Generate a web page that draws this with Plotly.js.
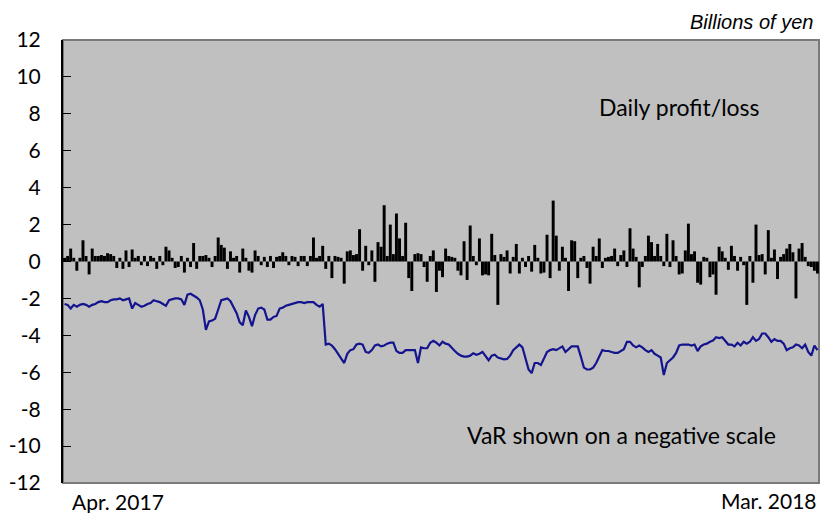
<!DOCTYPE html>
<html>
<head>
<meta charset="utf-8">
<script src="https://cdn.plot.ly/plotly-3.0.1.min.js"></script>
<style>
  html, body { margin: 0; padding: 0; background: #ffffff; }
  #chart { width: 822px; height: 513px; }
</style>
</head>
<body>
<div id="chart"></div>
<script>
// Daily profit/loss (billions of yen), one value per trading day, Apr. 2017 - Mar. 2018
var dailyPL = [
  0.2, 0.3, 0.7, 0.2, -0.5, 0.2, 1.15, 0.3, -0.7, 0.7,
  0.3, 0.3, 0.35, 0.3, 0.45, 0.4, 0.3, -0.35, 0.2, -0.4,
  0.6, -0.3, 0.65, 0.2, 0.3, -0.2, 0.3, -0.25, 0.3, 0.2,
  -0.4, 0.3, -0.2, 0.8, 0.6, 0.2, -0.35, -0.3, 0.3, -0.6,
  0.2, -0.3, 1.0, -0.4, 0.3, 0.3, 0.35, 0.2, -0.3, 0.3,
  1.3, 0.9, 0.75, -0.4, 0.55, 0.2, 0.3, -0.6, 0.7, 0.2,
  -0.5, -0.6, 0.6, 0.3, -0.2, 0.25, -0.3, 0.3, -0.35, 0.25,
  0.3, 0.5, 0.3, -0.2, 0.3, 0.25, -0.25, 0.3, 0.3, -0.25,
  0.3, 1.3, 0.2, 0.3, 0.85, -0.4, 0.3, -0.9, 0.3, 0.25,
  0.2, -1.2, 0.55, 0.6, 0.35, 0.4, 1.75, -0.5, 0.85, -0.2,
  0.6, -1.1, 1.05, 0.8, 3.05, 0.3, 2.0, 0.4, 2.6, 1.25,
  0.3, 2.1, -0.9, -1.6, 0.4, 0.45, 0.4, -0.3, -1.1, 0.3,
  0.6, -1.65, -0.5, -0.85, 0.7, 0.3, 0.25, 0.2, -0.5, -0.75,
  1.1, -1.0, 1.95, 0.3, -0.2, 1.25, -0.75, -0.7, -0.75, 1.5,
  0.35, -2.35, 0.4, 0.25, 0.6, -0.65, 0.25, 0.95, -0.65, 0.2,
  -0.3, 0.3, -0.55, 0.9, 0.2, -0.65, -0.6, 1.45, -0.9, 3.3,
  1.4, -0.5, 0.8, 0.2, -1.6, 1.15, 1.1, -0.9, 0.2, 0.3,
  -0.35, -1.2, 0.8, 0.3, 1.25, -0.35, 0.2, 0.25, 0.3, 0.7,
  -0.25, 0.35, 0.6, -0.3, 1.8, 0.7, 0.25, -1.4, -0.3, 0.3,
  1.4, 1.05, 0.3, 0.95, 0.3, -0.25, 1.5, -0.3, 1.15, 0.3,
  -0.7, -0.65, 0.6, 2.05, 0.4, 0.55, -1.15, -1.25, 0.25, 0.2,
  -0.85, -0.7, -1.8, 0.8, 0.55, 0.2, -0.45, 0.85, 0.3, -0.5,
  0.25, -0.2, -2.35, 0.3, -1.15, 2.0, 0.35, 0.4, -0.7, 1.7,
  0.2, 0.65, -0.95, 0.25, 0.4, 0.7, 0.95, 0.5, -2.0, 0.7,
  1.0, 0.25, -0.25, -0.3, -0.5, -0.65
];

// VaR (billions of yen), shown on a negative scale
var varNegative = [
  -2.3, -2.35, -2.55, -2.35, -2.45, -2.35, -2.3, -2.35, -2.45, -2.35,
  -2.3, -2.2, -2.15, -2.2, -2.2, -2.1, -2.05, -2.05, -2.0, -2.1,
  -2.05, -2.0, -2.55, -2.25, -2.35, -2.45, -2.4, -2.3, -2.25, -2.1,
  -2.15, -2.2, -2.3, -2.4, -2.1, -2.05, -2.0, -2.0, -2.05, -2.35,
  -1.8, -1.75, -1.85, -1.95, -2.1, -2.6, -3.7, -3.25, -3.2, -3.1,
  -2.6, -2.1, -2.05, -2.0, -2.15, -2.5, -2.8, -3.3, -3.45, -2.65,
  -3.0, -3.5, -2.9, -2.55, -2.5, -2.6, -3.15, -3.15, -3.0, -2.95,
  -2.55, -2.5, -2.4, -2.35, -2.3, -2.25, -2.2, -2.2, -2.25, -2.2,
  -2.2, -2.2, -2.35, -2.45, -2.3, -4.5, -4.45, -4.55, -4.75, -5.0,
  -5.3, -5.5, -5.0, -4.8, -4.75, -4.5, -4.45, -4.5, -4.9, -4.95,
  -4.8, -4.55, -4.5, -4.6, -4.55, -4.45, -4.4, -4.4, -4.85, -4.95,
  -4.95, -4.8, -4.8, -4.8, -4.8, -5.5, -4.65, -4.7, -4.7, -4.4,
  -4.3, -4.4, -4.55, -4.35, -4.45, -4.5, -4.7, -4.85, -5.0, -5.1,
  -5.15, -5.15, -5.1, -4.97, -5.05, -5.0, -4.9, -5.1, -5.35, -5.1,
  -5.05, -5.2, -5.25, -5.3, -5.28, -5.1, -4.8, -4.65, -4.5, -4.65,
  -5.3, -5.85, -6.05, -5.5, -5.5, -5.6, -5.25, -4.9, -4.8, -4.75,
  -4.8, -4.7, -4.6, -4.9, -4.75, -4.6, -4.6, -4.6, -5.15, -5.75,
  -5.85, -5.85, -5.75, -5.5, -5.15, -4.8, -4.85, -4.85, -4.9, -4.95,
  -4.95, -4.85, -4.75, -4.35, -4.35, -4.55, -4.65, -4.55, -4.65, -4.8,
  -4.9, -4.8, -5.0, -5.1, -5.2, -6.15, -5.5, -5.35, -5.2, -4.95,
  -4.55, -4.5, -4.5, -4.5, -4.55, -4.5, -4.85, -4.6, -4.5, -4.45,
  -4.35, -4.28, -4.1, -4.15, -4.1, -4.3, -4.5, -4.5, -4.6, -4.4,
  -4.55, -4.35, -4.45, -4.35, -4.1, -4.3, -4.2, -3.9, -3.9, -4.1,
  -4.35, -4.2, -4.3, -4.3, -4.45, -4.8, -4.7, -4.65, -4.5, -4.55,
  -4.7, -4.5, -4.9, -5.1, -4.55, -4.8
];

var xTickLabels = ["Apr. 2017", "Mar. 2018"];
var yTickValues = [12, 10, 8, 6, 4, 2, 0, -2, -4, -6, -8, -10, -12];
var yTickLabels = ["12", "10", "8", "6", "4", "2", "0", "-2", "-4", "-6", "-8", "-10", "-12"];
var unitLabel = "Billions of yen";
var plLabel = "Daily profit/loss";
var varLabel = "VaR shown on a negative scale";

var days = dailyPL.map(function (_, i) { return i; });

var FONT = "Lato, 'Open Sans', sans-serif";

var traces = [
  {
    type: "bar",
    x: days,
    y: dailyPL,
    marker: { color: "#000000", line: { width: 0 } },
    hoverinfo: "skip"
  },
  {
    type: "scatter",
    mode: "lines",
    x: days,
    y: varNegative,
    line: { color: "#14148f", width: 2.2 },
    hoverinfo: "skip"
  }
];

var layout = {
  width: 822,
  height: 513,
  margin: { l: 63, r: 3, t: 40, b: 30 },
  paper_bgcolor: "#ffffff",
  plot_bgcolor: "#c0c0c0",
  showlegend: false,
  bargap: 0.04,
  font: { family: FONT, color: "#000000", size: 21 },
  xaxis: {
    range: [-0.5, days.length - 0.5],
    showticklabels: false,
    ticks: "",
    showgrid: false,
    zeroline: false,
    showline: false,
    fixedrange: true
  },
  yaxis: {
    range: [-12, 12],
    tickvals: yTickValues,
    ticktext: yTickLabels,
    ticks: "inside",
    ticklen: 8,
    tickwidth: 1,
    tickcolor: "#000000",
    showgrid: false,
    zeroline: false,
    showline: true,
    linecolor: "#000000",
    linewidth: 2,
    ticklabelstandoff: 16,
    tickfont: { family: FONT, size: 21, color: "#000000" },
    fixedrange: true
  },
  shapes: [
    {
      type: "rect", xref: "paper", yref: "paper",
      x0: 0, x1: 1, y0: 0, y1: 1,
      line: { color: "#7a7a7a", width: 2 },
      fillcolor: "rgba(0,0,0,0)",
      layer: "below"
    }
  ],
  annotations: [
    {
      xref: "paper", yref: "paper", x: 0.9947, y: 1,
      xanchor: "right", yanchor: "middle", yshift: 18,
      text: "<i>" + unitLabel + "</i>", showarrow: false,
      font: { family: "'Liberation Sans', Arial, sans-serif", size: 20, color: "#000000" }
    },
    {
      xref: "paper", yref: "paper", x: 0.816, y: 0.849,
      xanchor: "center", yanchor: "middle",
      text: plLabel, showarrow: false,
      font: { family: FONT, size: 23, color: "#000000" }
    },
    {
      xref: "paper", yref: "paper", x: 0.739, y: 0.108,
      xanchor: "center", yanchor: "middle",
      text: varLabel, showarrow: false,
      font: { family: FONT, size: 23, color: "#000000" }
    },
    {
      xref: "paper", yref: "paper", x: 0.009, y: 0,
      xanchor: "left", yanchor: "middle", yshift: -18,
      text: xTickLabels[0], showarrow: false,
      font: { family: FONT, size: 21, color: "#000000" }
    },
    {
      xref: "paper", yref: "paper", x: 1, y: 0,
      xanchor: "right", yanchor: "middle", yshift: -17,
      text: xTickLabels[1], showarrow: false,
      font: { family: FONT, size: 21, color: "#000000" }
    }
  ]
};

Plotly.newPlot("chart", traces, layout, { displayModeBar: false, staticPlot: true });
</script>
</body>
</html>
